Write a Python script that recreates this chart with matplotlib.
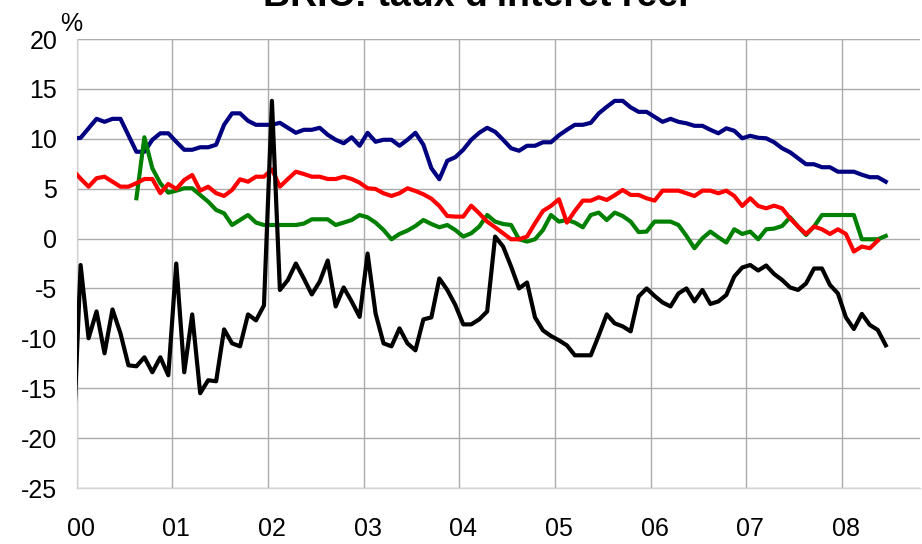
import matplotlib
matplotlib.use("Agg")
import matplotlib.pyplot as plt
import numpy as np
import pandas as pd

plt.rcParams['font.family'] = ['Liberation Sans', 'DejaVu Sans']
plt.rcParams['axes.unicode_minus'] = False

# monthly data, Dec 1999 .. Jun 2008
months = pd.period_range("1999-12", "2008-06", freq="M")

bleu = [10.0,
        10.1, 11.05, 12.0, 11.7, 12.0, 12.0, 10.35, 8.7, 8.7, 9.9, 10.55, 10.55,
        9.7, 8.9, 8.9, 9.15, 9.15, 9.4, 11.4, 12.55, 12.55, 11.8, 11.4, 11.4,
        11.4, 11.6, 11.1, 10.6, 10.9, 10.9, 11.1, 10.4, 9.9, 9.55, 10.15, 9.3,
        10.6, 9.7, 9.9, 9.9, 9.3, 9.9, 10.6, 9.4, 7.05, 5.95, 7.8, 8.15,
        8.9, 9.9, 10.6, 11.1, 10.7, 9.9, 9.05, 8.8, 9.3, 9.3, 9.65, 9.65,
        10.35, 10.9, 11.4, 11.4, 11.6, 12.55, 13.2, 13.8, 13.8, 13.15, 12.7, 12.7,
        12.2, 11.7, 12.0, 11.7, 11.55, 11.3, 11.3, 10.9, 10.55, 11.05, 10.8, 10.05,
        10.3, 10.1, 10.05, 9.65, 9.05, 8.65, 8.05, 7.45, 7.45, 7.15, 7.15, 6.7,
        6.7, 6.7, 6.4, 6.15, 6.15, 5.7]

rouge = [6.9,
         6.0, 5.2, 6.05, 6.2, 5.7, 5.2, 5.2, 5.55, 5.97, 5.97, 4.55, 5.47,
         4.97, 5.87, 6.37, 4.8, 5.2, 4.55, 4.27, 4.87, 5.94, 5.7, 6.2, 6.2,
         6.94, 5.2, 5.97, 6.7, 6.47, 6.2, 6.2, 5.97, 5.97, 6.2, 5.97, 5.6,
         5.04, 4.97, 4.54, 4.27, 4.54, 5.04, 4.77, 4.44, 4.0, 3.27, 2.26, 2.2,
         2.2, 3.3, 2.53, 1.7, 1.13, 0.53, -0.07, -0.07, 0.2, 1.53, 2.77, 3.27,
         3.94, 1.6, 2.77, 3.8, 3.8, 4.14, 3.87, 4.34, 4.87, 4.37, 4.37, 4.04,
         3.8, 4.8, 4.8, 4.8, 4.54, 4.27, 4.8, 4.8, 4.54, 4.8, 4.27, 3.27,
         4.04, 3.27, 3.03, 3.3, 3.03, 2.03, 1.2, 0.46, 1.2, 0.93, 0.46, 0.93,
         0.46, -1.3, -0.8, -0.97, -0.2, np.nan]

vert = [np.nan,
        np.nan, np.nan, np.nan, np.nan, np.nan, np.nan, np.nan, 4.04, 10.15, 7.04, 5.54, 4.6,
        4.8, 5.04, 5.04, 4.37, 3.7, 2.87, 2.53, 1.36, 1.86, 2.36, 1.6, 1.36,
        1.36, 1.36, 1.36, 1.36, 1.5, 1.93, 1.93, 1.93, 1.36, 1.6, 1.86, 2.36,
        2.13, 1.6, 0.86, -0.07, 0.46, 0.8, 1.26, 1.86, 1.46, 1.13, 1.36, 0.86,
        0.2, 0.53, 1.2, 2.36, 1.7, 1.46, 1.36, -0.07, -0.3, -0.07, 0.86, 2.36,
        1.7, 1.86, 1.6, 1.13, 2.36, 2.6, 1.86, 2.6, 2.26, 1.7, 0.65, 0.7,
        1.7, 1.7, 1.7, 1.36, 0.26, -0.97, 0.03, 0.7, 0.13, -0.4, 0.93, 0.46,
        0.7, -0.07, 0.93, 1.0, 1.26, 2.13, 1.2, 0.36, 1.2, 2.36, 2.36, 2.36,
        2.36, 2.36, -0.07, -0.07, -0.07, 0.26]

noir = [-22.0,
        -2.65, -9.99, -7.3, -11.5, -7.1, -9.5, -12.7, -12.8, -11.9, -13.4, -11.9, -13.7,
        -2.5, -13.4, -7.6, -15.5, -14.2, -14.3, -9.1, -10.5, -10.8, -7.6, -8.2, -6.7,
        13.8, -5.15, -4.15, -2.5, -4.0, -5.6, -4.3, -2.2, -6.8, -4.9, -6.3, -7.85,
        -1.5, -7.5, -10.5, -10.8, -9.0, -10.5, -11.2, -8.1, -7.9, -4.0, -5.15, -6.65,
        -8.6, -8.6, -8.1, -7.3, 0.2, -0.8, -2.8, -5.0, -4.4, -7.9, -9.2, -9.76,
        -10.2, -10.7, -11.7, -11.7, -11.7, -9.7, -7.6, -8.5, -8.8, -9.3, -5.8, -5.0,
        -5.75, -6.4, -6.8, -5.5, -5.0, -6.3, -5.15, -6.55, -6.3, -5.65, -3.8, -2.9,
        -2.65, -3.2, -2.7, -3.55, -4.15, -4.9, -5.15, -4.5, -3.0, -3.0, -4.65, -5.5,
        -7.9, -9.06, -7.55, -8.66, -9.16, -10.7]

annees = list(range(2000, 2009))
etiquettes = ["00", "01", "02", "03", "04", "05", "06", "07", "08"]

# position of each month in decimal years (middle of the month)
x = np.array([p.year + (p.month - 0.5) / 12 for p in months])

fig = plt.figure(figsize=(9.22, 5.44), dpi=100)
ax = fig.add_axes([0.0831, 0.1029, 0.9147, 0.8254])

lw = 3.0
ax.plot(x, bleu, color="#000080", lw=lw, solid_joinstyle="round", zorder=3)
ax.plot(x, vert, color="#008000", lw=lw, solid_joinstyle="round", zorder=3)
ax.plot(x, rouge, color="#ff0000", lw=lw, solid_joinstyle="round", zorder=4)
ax.plot(x, noir, color="#000000", lw=lw, solid_joinstyle="round", zorder=5)

ax.set_xlim(2000, 2008.816)
ax.set_ylim(-25, 20)
ax.set_yticks(range(-25, 21, 5))

ax.set_xticks(annees)
ax.set_xticklabels([])
ax.set_xticks([a + 0.5 / 12 for a in annees], minor=True)
ax.set_xticklabels(etiquettes, minor=True)

ax.grid(True, which="major", color="#ababab", lw=1)
ax.tick_params(which="both", length=0, labelsize=18)
ax.tick_params(axis="y", pad=14)
ax.tick_params(axis="x", which="minor", pad=21)

for s in ["top", "right"]:
    ax.spines[s].set_visible(False)
for s in ["left", "bottom"]:
    ax.spines[s].set_color("#d4d4d4")
    ax.spines[s].set_linewidth(1)
ax.axhline(20, color="#d9d9d9", lw=1, zorder=1)

fig.text(60 / 922, 1 - 31 / 544, "%", fontsize=18, ha="left", va="baseline")
fig.text(476 / 922, 1 - 6 / 544, "BRIC: taux d'intérêt réel", fontsize=27,
         fontweight="bold", ha="center", va="baseline")

fig.savefig("out.png", dpi=100)
